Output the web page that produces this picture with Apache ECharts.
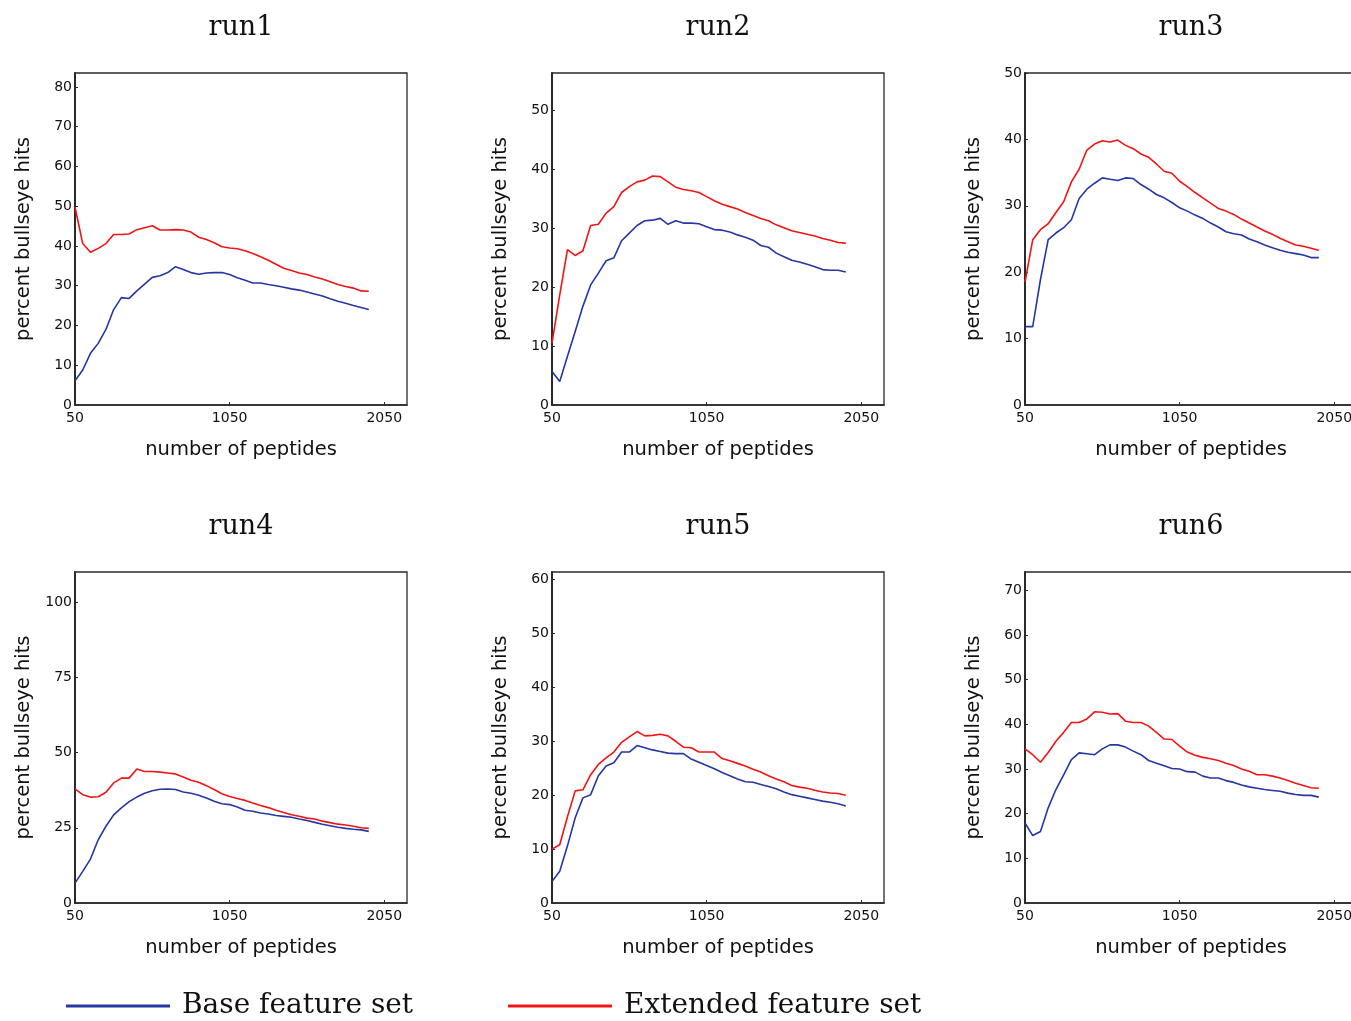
<!DOCTYPE html>
<html>
<head>
<meta charset="utf-8">
<script src="https://cdn.jsdelivr.net/npm/echarts@6/dist/echarts.min.js"></script>
<style>
  html, body { margin: 0; padding: 0; background: #fff; overflow: hidden; }
  #chart { width: 1362px; height: 1021px; }
</style>
</head>
<body>
<div id="chart"></div>
<script>
// x values: number of peptides
const peptides = [50, 100, 150, 200, 250, 300, 350, 400, 450, 500, 550, 600, 650, 700, 750, 800,
  850, 900, 950, 1000, 1050, 1100, 1150, 1200, 1250, 1300, 1350, 1400, 1450, 1500, 1550, 1600,
  1650, 1700, 1750, 1800, 1850, 1900, 1950];

const run1Base = [6.1, 8.8, 13.0, 15.5, 19.0, 24.0, 27.0, 26.8, 28.7, 30.4, 32.1, 32.5, 33.3, 34.8,
  34.1, 33.3, 32.9, 33.2, 33.3, 33.3, 32.8, 32.0, 31.4, 30.7, 30.7, 30.3, 30.0, 29.6, 29.2, 28.9,
  28.4, 27.9, 27.4, 26.7, 26.1, 25.6, 25.0, 24.5, 24.0];
const run1Extended = [49.8, 40.6, 38.4, 39.4, 40.6, 42.9, 42.9, 43.0, 44.1, 44.6, 45.1, 44.0, 44.0,
  44.1, 44.0, 43.5, 42.2, 41.6, 40.8, 39.8, 39.5, 39.3, 38.8, 38.1, 37.3, 36.4, 35.4, 34.4, 33.8,
  33.2, 32.8, 32.2, 31.7, 31.0, 30.3, 29.8, 29.4, 28.7, 28.6];

const run2Base = [5.7, 4.0, 8.3, 12.5, 16.8, 20.4, 22.4, 24.5, 25.0, 27.9, 29.2, 30.5, 31.3, 31.4,
  31.7, 30.7, 31.3, 30.9, 30.9, 30.8, 30.3, 29.8, 29.7, 29.4, 28.9, 28.5, 28.0, 27.1, 26.8, 25.8,
  25.2, 24.6, 24.3, 23.9, 23.5, 23.0, 22.9, 22.9, 22.6];
const run2Extended = [10.5, 18.7, 26.4, 25.4, 26.2, 30.5, 30.7, 32.6, 33.7, 36.1, 37.1, 37.9, 38.2,
  38.9, 38.8, 37.9, 37.0, 36.6, 36.4, 36.1, 35.4, 34.7, 34.1, 33.7, 33.3, 32.7, 32.2, 31.7, 31.3,
  30.6, 30.1, 29.6, 29.3, 29.0, 28.7, 28.3, 28.0, 27.6, 27.5];

const run3Base = [11.8, 11.8, 18.9, 24.9, 25.9, 26.7, 27.9, 31.1, 32.5, 33.4, 34.2, 34.0, 33.8, 34.2,
  34.1, 33.2, 32.5, 31.7, 31.2, 30.5, 29.7, 29.2, 28.6, 28.1, 27.4, 26.8, 26.1, 25.8, 25.6, 25.0,
  24.6, 24.1, 23.7, 23.3, 23.0, 22.8, 22.6, 22.2, 22.2];
const run3Extended = [18.5, 24.9, 26.4, 27.3, 29.0, 30.6, 33.6, 35.5, 38.4, 39.3, 39.8, 39.6, 39.9,
  39.1, 38.6, 37.8, 37.3, 36.3, 35.2, 34.9, 33.7, 32.9, 32.0, 31.2, 30.4, 29.6, 29.2, 28.7, 28.0,
  27.4, 26.8, 26.2, 25.7, 25.1, 24.6, 24.1, 23.9, 23.6, 23.3];

const run4Base = [6.6, 10.5, 14.6, 21.0, 25.5, 29.3, 31.6, 33.7, 35.2, 36.5, 37.3, 37.8, 37.9, 37.7,
  36.9, 36.5, 35.8, 34.9, 33.8, 33.0, 32.7, 31.9, 30.8, 30.5, 29.9, 29.6, 29.1, 28.8, 28.5, 27.9,
  27.4, 26.8, 26.2, 25.7, 25.2, 24.8, 24.5, 24.3, 23.8];
const run4Extended = [37.9, 36.0, 35.2, 35.3, 36.8, 39.9, 41.5, 41.5, 44.5, 43.7, 43.7, 43.5, 43.2,
  42.9, 41.9, 40.8, 40.1, 39.0, 37.7, 36.3, 35.4, 34.7, 34.1, 33.2, 32.4, 31.7, 30.8, 30.1, 29.3,
  28.8, 28.2, 27.9, 27.2, 26.7, 26.2, 25.9, 25.5, 25.0, 24.8];

const run5Base = [4.0, 5.9, 10.6, 15.8, 19.5, 20.1, 23.6, 25.4, 26.0, 28.0, 28.0, 29.2, 28.8, 28.4,
  28.1, 27.8, 27.7, 27.7, 26.7, 26.1, 25.5, 24.9, 24.2, 23.6, 23.0, 22.5, 22.4, 22.0, 21.6, 21.2,
  20.6, 20.1, 19.8, 19.5, 19.2, 18.9, 18.7, 18.4, 18.0];
const run5Extended = [10.0, 10.8, 16.0, 20.8, 21.0, 23.8, 25.7, 26.9, 28.0, 29.8, 30.8, 31.8, 31.0,
  31.1, 31.3, 31.0, 30.0, 28.9, 28.8, 28.0, 28.0, 28.0, 26.8, 26.4, 25.9, 25.4, 24.8, 24.3, 23.6,
  23.0, 22.5, 21.8, 21.5, 21.3, 20.9, 20.6, 20.4, 20.3, 20.0];

const run6Base = [17.9, 15.1, 16.0, 21.3, 25.4, 28.7, 32.1, 33.6, 33.4, 33.2, 34.5, 35.4, 35.4, 34.9,
  34.0, 33.2, 31.9, 31.3, 30.7, 30.1, 30.0, 29.4, 29.3, 28.4, 28.0, 28.0, 27.4, 27.0, 26.4, 26.0,
  25.7, 25.4, 25.2, 25.0, 24.6, 24.3, 24.1, 24.1, 23.7];
const run6Extended = [34.5, 33.2, 31.5, 33.7, 36.2, 38.2, 40.4, 40.4, 41.2, 42.8, 42.7, 42.3, 42.4,
  40.7, 40.4, 40.4, 39.6, 38.2, 36.7, 36.6, 35.1, 33.8, 33.1, 32.6, 32.3, 31.9, 31.3, 30.8, 30.0,
  29.5, 28.7, 28.7, 28.4, 28.0, 27.4, 26.8, 26.3, 25.8, 25.7];

// tick labels
const xTicks = [50, 1050, 2050];
const yTicks10to80 = [0, 10, 20, 30, 40, 50, 60, 70, 80];
const yTicks10to50 = [0, 10, 20, 30, 40, 50];
const yTicks10to60 = [0, 10, 20, 30, 40, 50, 60];
const yTicks10to70 = [0, 10, 20, 30, 40, 50, 60, 70];
const yTicks25to100 = [0, 25, 50, 75, 100];

const titles = ['run1', 'run2', 'run3', 'run4', 'run5', 'run6'];
const baseSeries = [run1Base, run2Base, run3Base, run4Base, run5Base, run6Base];
const extSeries = [run1Extended, run2Extended, run3Extended, run4Extended, run5Extended, run6Extended];
const yTickSets = [yTicks10to80, yTicks10to50, yTicks10to50, yTicks25to100, yTicks10to60, yTicks10to70];
const yMaxes = [83.5, 56.4, 50, 110, 61.4, 74.1];
const xMax = 2197;

// layout
const colLeft = [75, 552, 1025];
const rowTop = [73, 572];
const plotWidth = 332;
const plotHeight = [332, 331];

const BLUE = '#2437a3';
const RED = '#f01414';
const SANS = 'DejaVu Sans';
const SERIF = 'DejaVu Serif';

const plain = (v) => String(v);

const grid = [], xAxis = [], yAxis = [], series = [], title = [];

titles.forEach((name, i) => {
  const col = i % 3;
  const row = Math.floor(i / 3);
  grid.push({
    left: colLeft[col], top: rowTop[row], width: plotWidth, height: plotHeight[row],
    show: true, borderColor: '#2a2a2a', borderWidth: 1.3, backgroundColor: 'transparent'
  });
  title.push({
    text: name,
    left: colLeft[col] + plotWidth / 2,
    top: rowTop[row] - 59,
    padding: 0,
    textAlign: 'center',
    textStyle: { fontFamily: SERIF, fontSize: 27, fontWeight: 'normal', color: '#111' }
  });
  xAxis.push({
    type: 'value', gridIndex: i, min: 50, max: xMax,
    name: 'number of peptides', nameLocation: 'middle', nameGap: 35,
    nameTextStyle: { fontFamily: SANS, fontSize: 19.5, color: '#111' },
    axisLine: { show: true, lineStyle: { color: '#2a2a2a', width: 1.5 } },
    axisTick: { show: true, inside: true, length: 3, customValues: xTicks, lineStyle: { color: '#2a2a2a' } },
    axisLabel: { customValues: xTicks, formatter: plain, fontFamily: SANS, fontSize: 14, color: '#111', margin: 6 },
    splitLine: { show: false }
  });
  yAxis.push({
    type: 'value', gridIndex: i, min: 0, max: yMaxes[i],
    name: 'percent bullseye hits', nameLocation: 'middle', nameGap: 41,
    nameTextStyle: { fontFamily: SANS, fontSize: 19.5, color: '#111' },
    axisLine: { show: true, lineStyle: { color: '#2a2a2a', width: 2 } },
    axisTick: { show: true, inside: true, length: 3, customValues: yTickSets[i], lineStyle: { color: '#2a2a2a' } },
    axisLabel: { customValues: yTickSets[i], formatter: plain, fontFamily: SANS, fontSize: 14, color: '#111', margin: 3 },
    splitLine: { show: false }
  });
  series.push({
    name: 'Base feature set', type: 'line', xAxisIndex: i, yAxisIndex: i,
    data: peptides.map((p, k) => [p, baseSeries[i][k]]),
    showSymbol: false, lineStyle: { color: BLUE, width: 1.6 }, itemStyle: { color: BLUE },
    animation: false
  });
  series.push({
    name: 'Extended feature set', type: 'line', xAxisIndex: i, yAxisIndex: i,
    data: peptides.map((p, k) => [p, extSeries[i][k]]),
    showSymbol: false, lineStyle: { color: RED, width: 1.6 }, itemStyle: { color: RED },
    animation: false
  });
});

const legendCommon = {
  top: 989, padding: 0, icon: 'rect', itemWidth: 104, itemHeight: 3,
  textStyle: { fontFamily: SERIF, fontSize: 28, color: '#111', padding: [0, 0, 0, 7], lineHeight: 34 },
  selectedMode: false
};

const chart = echarts.init(document.getElementById('chart'));
chart.setOption({
  backgroundColor: '#fff',
  animation: false,
  title,
  legend: [
    Object.assign({ left: 66, data: ['Base feature set'] }, legendCommon),
    Object.assign({ left: 508, data: ['Extended feature set'] }, legendCommon)
  ],
  grid,
  xAxis,
  yAxis,
  series
});
</script>
</body>
</html>
